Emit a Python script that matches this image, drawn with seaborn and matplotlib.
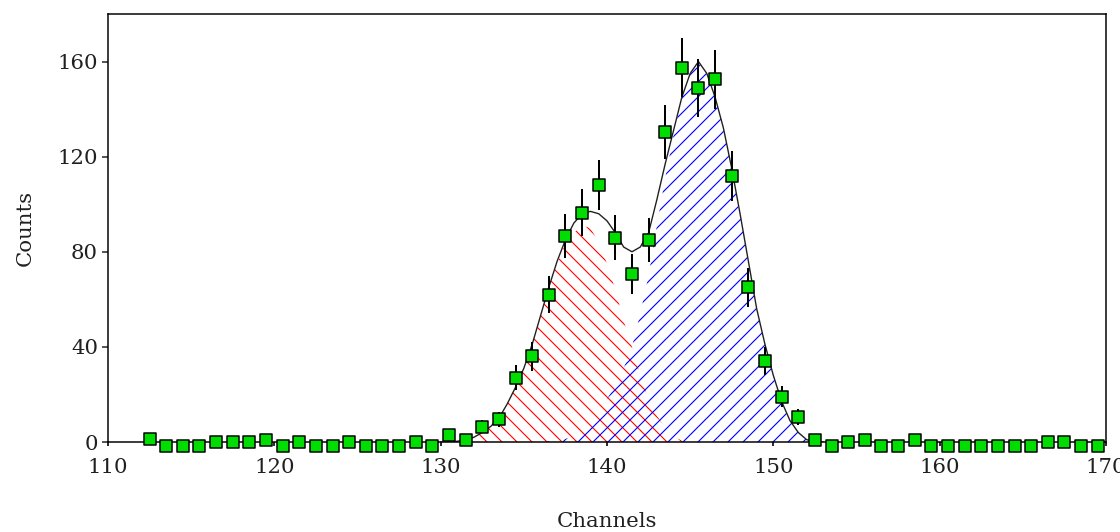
import numpy as np
import matplotlib
matplotlib.use("Agg")
import matplotlib.pyplot as plt
import seaborn as sns

# --- data ---
channels = np.arange(112.5, 170.0, 1.0)   # bin centres, 58 bins
counts = [1.4, -1.7, -1.7, -1.7, 0, 0, 0, 0.7, -1.7, 0,
          -1.7, -1.7, 0, -1.7, -1.7, -1.7, 0, -1.7, 2.9, 1,
          6.5, 9.5, 27, 36, 62, 86.5, 96.5, 108, 86, 70.5,
          85, 130.5, 157.5, 149, 152.5, 112, 65, 34, 19, 10.5,
          1, -1.7, 0, 0.7, -1.7, -1.7, 0.7, -1.7, -1.7, -1.7,
          -1.7, -1.7, -1.7, -1.7, 0, 0, -1.7, -1.7]
# poisson errors of the counts
err = np.sqrt(np.clip(counts, 0, None))

# fit curve and its two components, sampled every half channel 130 .. 153
fit_x = np.arange(130.0, 153.5, 0.5)
fit_total = [0, 0, 0.3, 1, 2, 4, 6.5, 10, 16, 23,
             31, 41, 53, 65, 76, 85, 92, 96, 97, 96,
             93, 88, 82, 80, 82, 88, 102, 117, 131, 145,
             155, 160, 155, 145, 132, 115, 96, 76, 56, 41,
             28, 17, 9, 4, 1, 0, 0]
peak_1 = [0, 0, 0.3, 1, 2, 4, 6.5, 10, 16, 23,
          31, 41, 53, 65, 75, 83.5, 88, 91, 90, 84,
          75, 64, 51, 40, 28, 18, 11, 6, 2, 0.7,
          0.2, 0, 0, 0, 0, 0, 0, 0, 0, 0,
          0, 0, 0, 0, 0, 0, 0]
peak_2 = [0, 0, 0, 0, 0, 0, 0, 0, 0, 0,
          0, 0, 0.1, 0.3, 0.7, 1.3, 2.5, 4.5, 7.5, 12,
          18, 24, 31, 40, 54, 70, 91, 111, 129, 145,
          155, 160, 155, 145, 132, 115, 96, 76, 56, 41,
          28, 17, 9, 4, 1, 0, 0]

# --- style ---
sns.set_theme(style="white")
plt.rcParams['font.family'] = ['DejaVu Serif']
plt.rcParams['hatch.linewidth'] = 0.9

fig = plt.figure(figsize=(1120 / 90, 532 / 90), dpi=90)
ax = fig.add_axes([108 / 1120, 1 - 442 / 532, 998 / 1120, 428 / 532])

# hatched components
ax.fill_between(fit_x, 0, peak_1, facecolor='none', edgecolor='red',
                hatch='\\\\', linewidth=0, zorder=1)
ax.fill_between(fit_x, 0, peak_2, facecolor='none', edgecolor='blue',
                hatch='//', linewidth=0, zorder=1)

# fit line
sns.lineplot(x=fit_x, y=fit_total, ax=ax, color='#202020', lw=1.1,
             sort=False, estimator=None, zorder=2)

# data with error bars
ax.errorbar(channels, counts, yerr=err, fmt='none', ecolor='black',
            elinewidth=1.6, capsize=0, zorder=3, clip_on=False)
sns.scatterplot(x=channels, y=counts, ax=ax, marker='s', s=92,
                color='#00dd00', edgecolor='black', linewidth=1.2,
                zorder=4, clip_on=False)

ax.set_xlim(110, 170)
ax.set_ylim(0, 180)
ax.set_xticks(np.arange(110, 171, 10))
ax.set_yticks(np.arange(0, 161, 40))

for s in ax.spines.values():
    s.set_color('black')
    s.set_linewidth(1.2)

ax.tick_params(axis='y', left=True, direction='out', length=5, width=1.2,
               pad=3, labelsize=17, colors='#202020')
ax.tick_params(axis='x', bottom=True, direction='out', length=3, width=1.5,
               pad=10, labelsize=17, colors='#202020')

ax.set_xlabel('Channels', fontsize=17, labelpad=28, color='#202020')
ax.set_ylabel('Counts', fontsize=17, labelpad=18, color='#202020')

fig.savefig('out.png', dpi=90)
